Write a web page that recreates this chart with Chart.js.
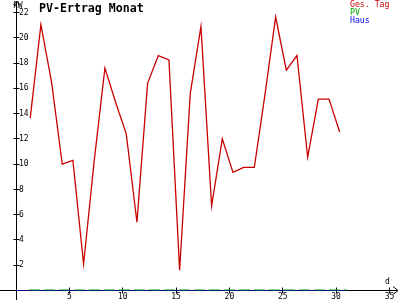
<!DOCTYPE html>
<html>
<head>
<meta charset="utf-8">
<script src="https://cdn.jsdelivr.net/npm/chart.js@4/dist/chart.umd.min.js"></script>
<style>
html,body{margin:0;padding:0;background:#fff;}
#c{display:block;}
</style>
</head>
<body>
<canvas id="c" width="400" height="300"></canvas>
<script>
// ---- data ----
const days = [1,2,3,4,5,6,7,8,9,10,11,12,13,14,15,16,17,18,19,20,21,22,23,24,25,26,27,28,29,30];
const readingHour = 8; // daily value stamped ~08:00 -> plotted at day + 8/24
const gesTag = [13.65,21.05,16.5,10.0,10.3,2.1,10.3,17.6,14.9,12.4,5.4,16.4,18.6,18.25,1.6,15.6,20.9,6.7,12.0,9.35,9.75,9.75,15.5,21.65,17.45,18.6,10.55,15.15,15.15,12.55];
const pvDays = [1.2, 31];
const pvValues = [0, 0];
const hausDays = [0, 31];
const hausValues = [0, 0];
const xTickValues = [5,10,15,20,25,30,35];
const yTickValues = [2,4,6,8,10,12,14,16,18,20,22];
const titleText = 'PV-Ertrag Monat';
const legendLabels = ['Ges. Tag','PV','Haus'];
const unitY = 'kW';
const unitX = 'd';

const RED = '#c80000', GREEN = '#00a800', BLUE = '#0000ff';
const MONO = '"DejaVu Sans Mono", "Liberation Mono", monospace';

const redPts = days.map((d,i)=>({x: d + readingHour/24, y: gesTag[i]}));
const pvPts = pvDays.map((d,i)=>({x: d, y: pvValues[i]}));
const hausPts = hausDays.map((d,i)=>({x: d, y: hausValues[i]}));

const decor = {
  id: 'decor',
  beforeDatasetsDraw(chart){
    const ctx = chart.ctx, xs = chart.scales.x, ys = chart.scales.y;
    const x0 = Math.floor(xs.getPixelForValue(0)) + 0.5;
    const y0 = Math.floor(ys.getPixelForValue(0)) + 0.5;
    ctx.save();
    ctx.strokeStyle = '#000';
    ctx.lineWidth = 1;
    ctx.beginPath();
    ctx.moveTo(0, y0); ctx.lineTo(398, y0);
    ctx.moveTo(393, y0-4); ctx.lineTo(398, y0); ctx.lineTo(393, y0+4);
    ctx.moveTo(x0, 300); ctx.lineTo(x0, 1);
    ctx.moveTo(x0-3, 5); ctx.lineTo(x0, 1); ctx.lineTo(x0+3, 5);
    xs.ticks.forEach(t=>{
      const px = Math.floor(xs.getPixelForValue(t.value)) + 0.5;
      ctx.moveTo(px, y0-3); ctx.lineTo(px, y0+3);
    });
    ys.ticks.forEach(t=>{
      const py = Math.floor(ys.getPixelForValue(t.value)) + 0.5;
      ctx.moveTo(x0-3, py); ctx.lineTo(x0+3, py);
    });
    ctx.stroke();
    ctx.restore();
  },
  afterDraw(chart){
    const ctx = chart.ctx;
    ctx.save();
    ctx.textBaseline = 'alphabetic';
    ctx.fillStyle = '#000';
    ctx.font = 'bold 11.6px ' + MONO;
    ctx.textAlign = 'left';
    ctx.fillText(titleText, 39, 11.5);
    ctx.font = '8px ' + MONO;
    ctx.fillText(unitY, 13, 8);
    ctx.fillText(unitX, 385, 284);
    const cols = [RED, GREEN, BLUE];
    ctx.font = '8.2px ' + MONO;
    legendLabels.forEach((l,i)=>{
      ctx.fillStyle = cols[i];
      ctx.fillText(l, 350, 7 + i*7.9);
    });
    ctx.restore();
  }
};

new Chart(document.getElementById('c'), {
  type: 'line',
  data: {
    datasets: [
      {label: legendLabels[0], data: redPts, borderColor: RED, borderWidth: 1.3, pointRadius: 0, tension: 0, order: 0},
      {label: legendLabels[2], data: hausPts, borderColor: BLUE, borderWidth: 1, pointRadius: 0, order: 1},
      {label: legendLabels[1], data: pvPts, borderColor: GREEN, borderWidth: 2, borderDash: [11,4], pointRadius: 0, order: 2}
    ]
  },
  options: {
    responsive: false,
    animation: false,
    events: [],
    layout: {padding: {left: 10, right: 2, top: 2.5, bottom: -3.5}},
    plugins: {legend: {display: false}, tooltip: {enabled: false}, title: {display: false}},
    scales: {
      x: {
        type: 'linear', min: 0, max: 35.8,
        grid: {display: false, drawTicks: false},
        border: {display: false},
        afterBuildTicks: s => { s.ticks = xTickValues.map(v=>({value: v})); },
        ticks: {color: '#000', font: {family: MONO, size: 8, lineHeight: 0.875}, padding: 3, maxRotation: 0, autoSkip: false}
      },
      y: {
        type: 'linear', min: 0, max: 22.68,
        grid: {display: false, drawTicks: false},
        border: {display: false},
        afterBuildTicks: s => { s.ticks = yTickValues.map(v=>({value: v})); },
        ticks: {mirror: true, padding: 3, color: '#000', font: {family: MONO, size: 8, lineHeight: 0.25}, autoSkip: false}
      }
    }
  },
  plugins: [decor]
});
</script>
</body>
</html>
